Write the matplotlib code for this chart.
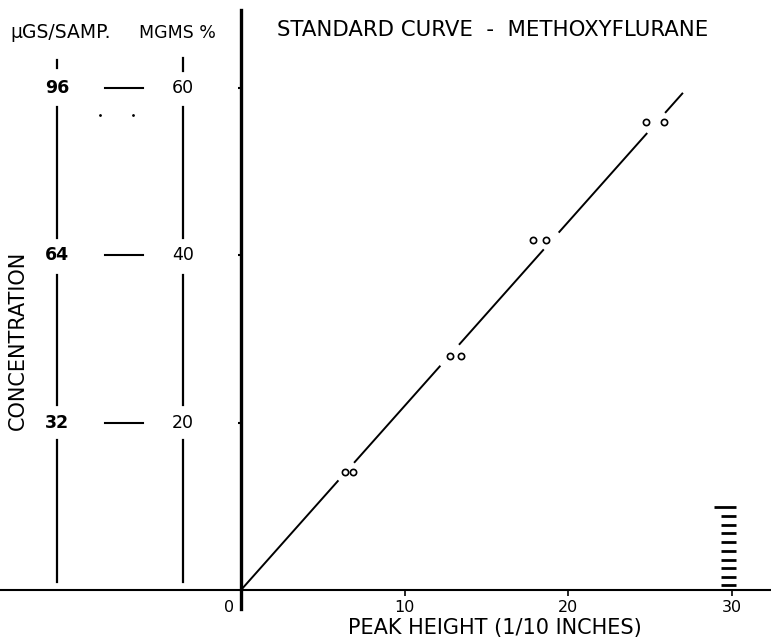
import matplotlib
matplotlib.use('Agg')
import matplotlib.pyplot as plt

# peak height (1/10 inch) against concentration (mgms %), duplicate readings
peak_a = [6.35, 12.77, 17.84, 24.74]
peak_b = [6.84, 13.44, 18.63, 25.84]
conc = [14.1, 28.0, 41.8, 55.9]

fit_slope = 2.2  # mgms % per unit of peak height
# the drawn line is broken at each pair of points (concentration ranges)
fit_pieces = [(0, 13.1), (15.2, 26.8), (29.3, 40.7), (42.7, 54.6), (57.0, 59.4)]

x_ticks = [10, 20, 30]
scale_mgms = [20, 40, 60]
scale_ugs = [32, 64, 96]
scale_left_pieces = [(0.96, 17.9), (22.1, 37.6), (42.05, 57.7), (62.4, 63.3)]
scale_right_pieces = [(0.96, 17.9), (22.1, 37.6), (42.05, 57.7), (62.0, 63.6)]
stack_y = [0.6, 1.6, 2.6, 3.6, 4.7, 5.7, 6.8, 7.8, 8.9, 9.9]

fig = plt.figure(figsize=(7.71, 6.38), dpi=100)
ax = fig.add_axes([0, 0, 1, 1])
ax.set_xlim(-14.72, 32.38)
ax.set_ylim(-5.73, 70.49)

# axes drawn through the origin
ax.spines['top'].set_visible(False)
ax.spines['right'].set_visible(False)
ax.spines['left'].set_position(('data', 0))
ax.spines['bottom'].set_position(('data', 0))
ax.spines['left'].set_bounds(-2.3, 69.3)
ax.spines['left'].set_linewidth(2.4)
ax.spines['bottom'].set_linewidth(1.5)

ax.set_xticks(x_ticks)
ax.set_xticklabels([str(t) for t in x_ticks], fontsize=11.5)
ax.tick_params(axis='x', direction='out', length=4.5, width=1.2, pad=3)
ax.set_yticks(scale_mgms)
ax.set_yticklabels([])
ax.tick_params(axis='y', direction='out', length=2.5, width=1.5)
ax.text(-0.73, -2.03, '0', ha='center', va='center', fontsize=11.5)

# standard curve
for lo, hi in fit_pieces:
    ax.plot([lo / fit_slope, hi / fit_slope], [lo, hi], color='black', lw=1.4,
            solid_capstyle='butt')
ax.plot(peak_a, conc, 'o', mfc='white', mec='black', ms=4.5, mew=1.2)
ax.plot(peak_b, conc, 'o', mfc='white', mec='black', ms=4.5, mew=1.2)

# side scale: ugs/sample vs mgms %
x_left, x_right = -11.24, -3.54
for v, u in zip(scale_mgms, scale_ugs):
    ax.text(x_left, v, str(u), ha='center', va='center', fontsize=12.5,
            fontweight='bold')
    ax.text(x_right, v, str(v), ha='center', va='center', fontsize=12.5)
    ax.plot([-8.31, -5.99], [v, v], color='black', lw=1.5)
for lo, hi in scale_left_pieces:
    ax.plot([x_left, x_left], [lo, hi], color='black', lw=1.6)
for lo, hi in scale_right_pieces:
    ax.plot([x_right, x_right], [lo, hi], color='black', lw=1.6)
ax.plot([-8.61, -6.6], [56.75, 56.75], 'k.', ms=2)

ax.text(-11.0, 66.55, 'μGS/SAMP.', ha='center', va='center', fontsize=13.5)
ax.text(-3.85, 66.55, 'MGMS %', ha='center', va='center', fontsize=12.5)
ax.text(-13.62, 29.87, 'CONCENTRATION', rotation=90, ha='center', va='center',
        fontsize=15)

ax.text(15.36, 66.9, 'STANDARD CURVE  -  METHOXYFLURANE', ha='center',
        va='center', fontsize=15.3)
ax.text(15.5, -4.54, 'PEAK HEIGHT (1/10 INCHES)', ha='center', va='center',
        fontsize=15)

# stack of short marks near 30
ax.hlines(stack_y[:-1], 29.32, 30.24, color='black', lw=2)
ax.hlines(stack_y[-1:], 28.9, 30.24, color='black', lw=2)

fig.savefig('out.png', dpi=100, facecolor='white')
